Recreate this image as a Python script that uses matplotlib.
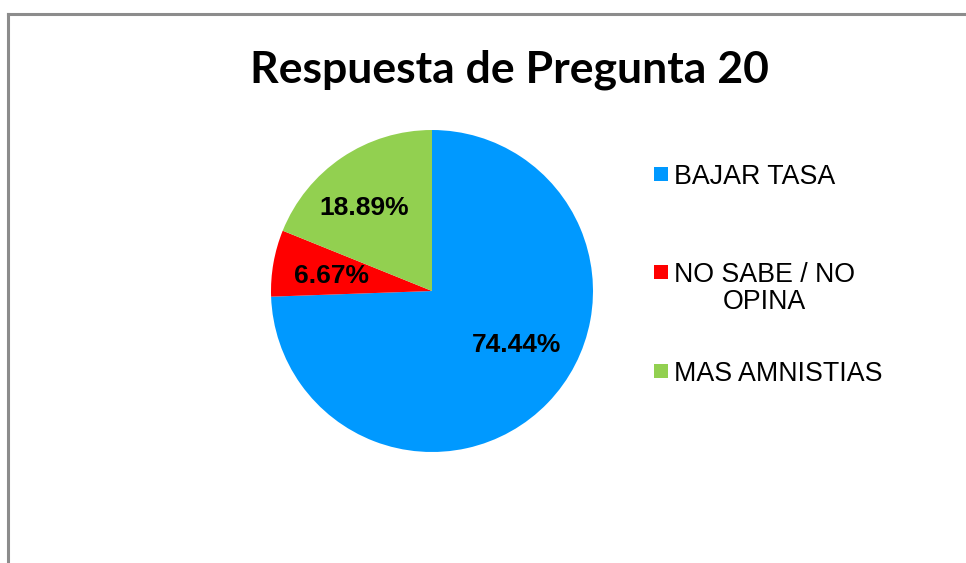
import matplotlib
matplotlib.use("Agg")
import matplotlib.pyplot as plt
from matplotlib.patches import Rectangle

categories = ["BAJAR TASA", "NO SABE / NO\nOPINA", "MAS AMNISTIAS"]
values = [74.44, 6.67, 18.89]
colors = ["#0099FF", "#FF0000", "#92D050"]
title = "Respuesta de Pregunta 20"

W, H = 966, 563
fig = plt.figure(figsize=(W / 100, H / 100), dpi=100)
fig.patch.set_facecolor("white")

# border
fig.add_artist(plt.Line2D([7.5 / W, 7.5 / W], [0, 1 - 13.5 / H], color="#8c8c8c", lw=2.2,
                          transform=fig.transFigure))
fig.add_artist(plt.Line2D([7.5 / W, 1], [1 - 13.5 / H, 1 - 13.5 / H], color="#8c8c8c", lw=2.2,
                          transform=fig.transFigure))

cx, cy, r = 432, 291, 161
ax = fig.add_axes([(cx - r) / W, (H - cy - r) / H, 2 * r / W, 2 * r / H])
wedges, texts, autotexts = ax.pie(values, colors=colors, startangle=90, counterclock=False,
                                  autopct="%.2f%%", pctdistance=0.64,
                                  wedgeprops=dict(linewidth=0),
                                  textprops=dict(fontsize=19, fontweight="bold",
                                                 family="Liberation Sans", color="black"))
label_pos = [(0.528, -0.335), (-0.627, 0.093), (-0.422, 0.516)]
for t, p in zip(autotexts, label_pos):
    t.set_position(p)
ax.set_xlim(-1, 1)
ax.set_ylim(-1, 1)
ax.set_aspect("equal")
ax.axis("off")

fig.text(509 / W, 1 - 70 / H, title, ha="center", va="center", fontsize=32,
         fontweight="bold", family="Lato")

# legend
rows_y = [174, 272, 371]
for lab, col, yy in zip(categories, colors, rows_y):
    fig.add_artist(Rectangle((654 / W, 1 - (yy + 7) / H), 14 / W, 14 / H, facecolor=col,
                             edgecolor="none", transform=fig.transFigure))
    fig.text(674 / W, 1 - (yy - 10) / H, lab, ha="left", va="top", fontsize=19.3,
             family="Liberation Sans", multialignment="center", linespacing=1.05)

fig.savefig("out.png", dpi=100)
